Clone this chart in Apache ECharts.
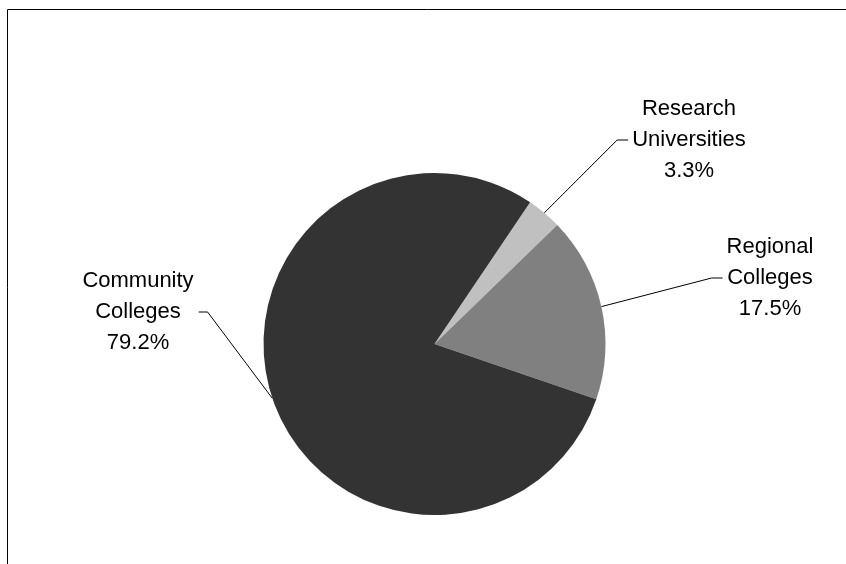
<!DOCTYPE html>
<html>
<head>
<meta charset="utf-8">
<script src="https://cdn.jsdelivr.net/npm/echarts@6/dist/echarts.min.js"></script>
<style>
html,body{margin:0;padding:0;background:#fff;}
#chart{width:846px;height:564px;}
</style>
</head>
<body>
<div id="chart"></div>
<script>
// Data
const categories = ['Research\nUniversities', 'Regional\nColleges', 'Community\nColleges'];
const values = [3.3, 17.5, 79.2];
const sliceColors = ['#c0c0c0', '#808080', '#333333'];

// Layout config (label anchor centers)
const labelAnchors = [
  { x: 689, y: 140, side: 'right' },
  { x: 770, y: 278, side: 'right' },
  { x: 138, y: 312, side: 'left' }
];
const CX = 434.5, CY = 344, R = 171, START = 56;

const chart = echarts.init(document.getElementById('chart'), null, { renderer: 'canvas' });

const total = values.reduce((a, b) => a + b, 0);
function edgePoint(i) {
  let acc = 0;
  for (let k = 0; k < i; k++) acc += values[k];
  const midFrac = (acc + values[i] / 2) / total;
  const angDeg = (90 - START) + midFrac * 360; // clockwise from top
  const a = angDeg * Math.PI / 180;
  return [CX + R * Math.sin(a), CY - R * Math.cos(a)];
}

chart.setOption({
  animation: false,
  backgroundColor: '#ffffff',
  graphic: [{
    type: 'rect',
    shape: { x: 7.5, y: 9.5, width: 900, height: 600 },
    style: { fill: 'none', stroke: '#000', lineWidth: 1 },
    silent: true
  }],
  series: [{
    type: 'pie',
    center: [CX, CY],
    radius: R,
    startAngle: START,
    clockwise: true,
    avoidLabelOverlap: false,
    emphasis: { disabled: true },
    data: categories.map((c, i) => ({
      name: c,
      value: values[i],
      itemStyle: { color: sliceColors[i] }
    })),
    itemStyle: { borderWidth: 0 },
    label: {
      show: true,
      position: 'outside',
      formatter: p => p.name + '\n' + p.value.toFixed(1) + '%',
      fontFamily: '"Liberation Sans", Arial, sans-serif',
      fontSize: 22,
      lineHeight: 31,
      color: '#000',
      align: 'center'
    },
    labelLine: {
      show: true,
      length: 20,
      length2: 10,
      lineStyle: { color: '#000', width: 1 }
    },
    labelLayout: function (params) {
      const i = params.dataIndex;
      const an = labelAnchors[i];
      const w = params.labelRect.width;
      const start = edgePoint(i);
      let endX, elbowX;
      if (an.side === 'right') {
        endX = an.x - w / 2 - 4;
        elbowX = endX - 11;
      } else {
        endX = an.x + w / 2 + 5;
        elbowX = endX + 9;
      }
      return {
        x: an.x,
        y: an.y,
        align: 'center',
        verticalAlign: 'middle',
        labelLinePoints: [start, [elbowX, an.y], [endX, an.y]]
      };
    }
  }]
});
</script>
</body>
</html>
